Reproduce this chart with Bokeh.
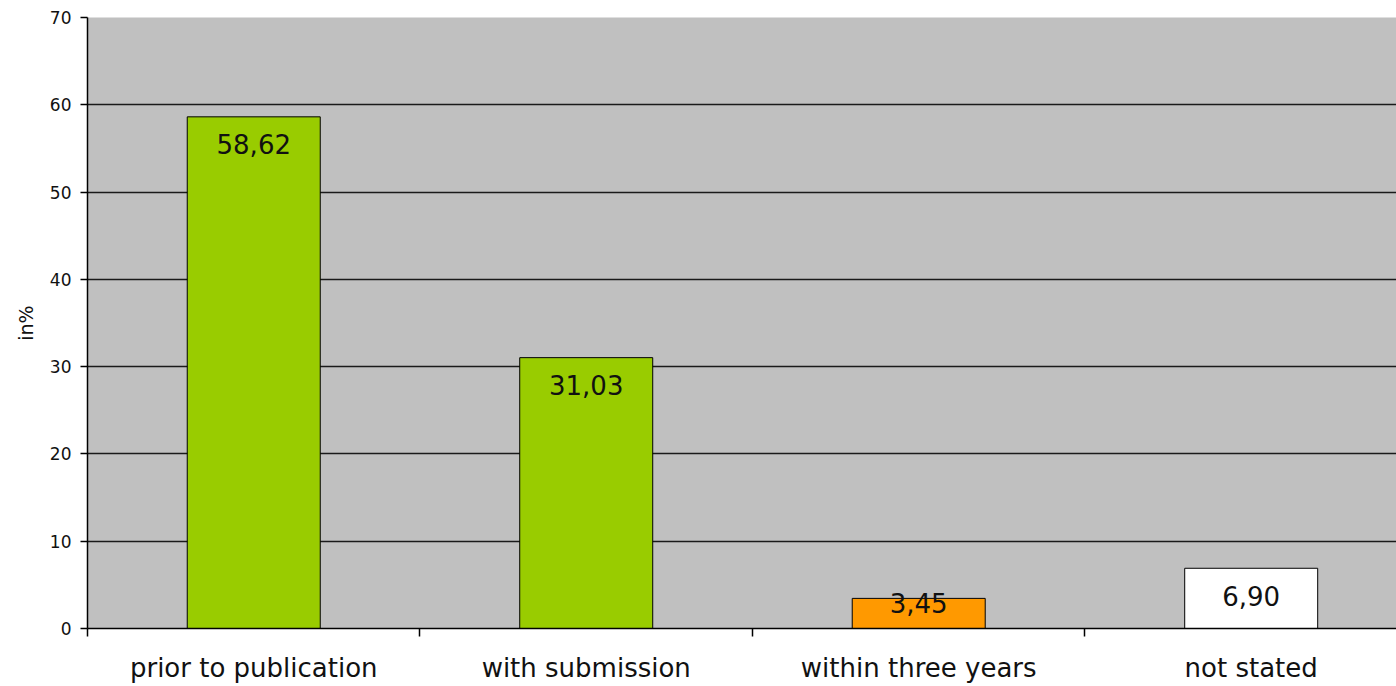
from bokeh.plotting import figure
from bokeh.models import Range1d, FixedTicker, ColumnDataSource
from bokeh.embed import file_html
from bokeh.resources import INLINE
from bokeh.core.properties import value

categories = ["prior to publication", "with submission", "within three years", "not stated"]
values = [58.62, 31.03, 3.45, 6.90]
colors = ["#99CC00", "#99CC00", "#FF9900", "#FFFFFF"]
y_ticks = [0, 10, 20, 30, 40, 50, 60, 70]

labels = [f"{v:.2f}".replace(".", ",") for v in values]
xs = [i + 0.5 for i in range(len(categories))]
label_offsets = [27, 27, 5, 28]

src = ColumnDataSource(dict(x=xs, top=values, color=colors, label=labels, off=label_offsets))

FONT = "DejaVu Sans"
p = figure(width=1396, height=686, output_backend="svg", toolbar_location=None,
           x_range=Range1d(0, 3.937), y_range=Range1d(0, 70),
           min_border_left=87, min_border_right=0, min_border_top=17, min_border_bottom=58)
p.background_fill_color = "#C0C0C0"
p.border_fill_color = "white"
p.outline_line_color = None

p.vbar(x="x", top="top", width=0.4, bottom=0, fill_color="color", line_color="black",
       line_width=1, source=src)
p.text(x="x", y="top", text="label", y_offset="off", text_align="center",
       text_baseline="middle", text_font=value(FONT), text_font_size="26px",
       text_color="#111111", source=src)

# x axis
p.xaxis.ticker = FixedTicker(ticks=xs, minor_ticks=[0, 1, 2, 3, 4])
p.xaxis.major_label_overrides = {x: c for x, c in zip(xs, categories)}
p.xaxis.major_tick_line_color = None
p.xaxis.major_tick_out = 0
p.xaxis.major_tick_in = 0
p.xaxis.minor_tick_out = 8
p.xaxis.minor_tick_in = 0
p.xaxis.minor_tick_line_color = "black"
p.xaxis.minor_tick_line_width = 1.5
p.xaxis.axis_line_color = "black"
p.xaxis.axis_line_width = 1.5
p.xaxis.major_label_text_font = FONT
p.xaxis.major_label_text_font_size = "26px"
p.xaxis.major_label_text_color = "#111111"
p.xaxis.major_label_standoff = 16

# y axis
p.yaxis.ticker = FixedTicker(ticks=y_ticks)
p.yaxis.minor_tick_line_color = None
p.yaxis.major_tick_out = 7
p.yaxis.major_tick_in = 0
p.yaxis.major_tick_line_width = 1.5
p.yaxis.axis_line_width = 1.5
p.yaxis.major_label_text_font = FONT
p.yaxis.major_label_text_font_size = "17px"
p.yaxis.major_label_text_color = "#111111"
p.yaxis.major_label_standoff = 9
p.yaxis.axis_label = "in%"
p.yaxis.axis_label_text_font = FONT
p.yaxis.axis_label_text_font_size = "19px"
p.yaxis.axis_label_text_font_style = "normal"
p.yaxis.axis_label_text_color = "#111111"
p.yaxis.axis_label_standoff = 10

p.xgrid.grid_line_color = None
p.ygrid.ticker = FixedTicker(ticks=y_ticks)
p.ygrid.grid_line_color = "#1a1a1a"
p.ygrid.grid_line_width = 1.5

open("out.html", "w").write(file_html(p, INLINE))
